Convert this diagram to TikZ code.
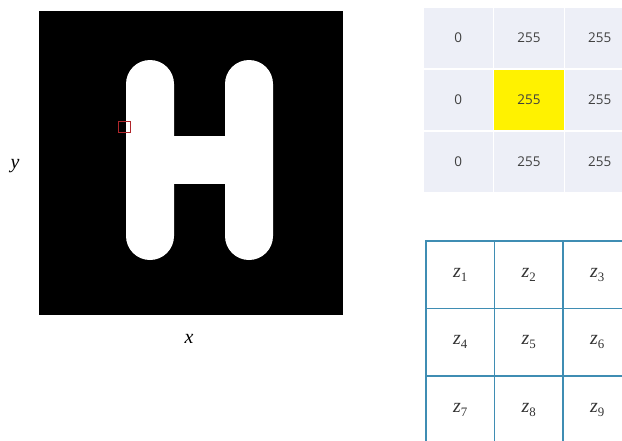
\documentclass[tikz,border=0pt]{standalone}
\usepackage{fontspec}
\setmainfont{Liberation Serif}
\newfontfamily\tabfont{Open Sans}
\usepackage{xcolor}
\usepackage{tikz}
\usetikzlibrary{positioning}

\definecolor{cellbg}{HTML}{EDEFF7}
\definecolor{numgray}{HTML}{404040}
\definecolor{gridblue}{HTML}{3F8DB3}
\definecolor{markred}{HTML}{B0262B}
\definecolor{labgray}{HTML}{333333}

\newcommand{\zlab}[1]{\textit{z}\raisebox{-0.45ex}{\fontsize{11}{11}\selectfont #1}}

\begin{document}
\begin{tikzpicture}[
    x=0.03cm, y=-0.03cm,
    node distance=0pt and 0pt,
    numcell/.style={draw=white, line width=1pt, outer sep=0pt, fill=cellbg, minimum width=2.12cm, minimum height=1.86cm, inner sep=0pt, font=\tabfont\fontsize{11.5}{13}\selectfont, text=numgray},
    hotcell/.style={numcell, fill=yellow},
    zcell/.style={draw=gridblue, line width=1.1pt, outer sep=0pt, minimum width=2.055cm, minimum height=2.025cm, inner sep=0pt, font=\fontsize{17}{19}\selectfont, text=labgray},
    axislab/.style={font=\fontsize{17}{19}\selectfont\itshape}
]
\useasboundingbox (0,0) rectangle (622,440);
\clip (0,0) rectangle (622,440);

% binary image of the letter
\node[fill=black, minimum size=9.12cm, inner sep=0pt, anchor=north west] (img) at (39,11) {};
\fill[white, rounded corners=0.72cm] (126,60) rectangle (174,260);
\fill[white, rounded corners=0.72cm] (225,60) rectangle (273,260);
\fill[white] (172,136) rectangle (227,184);
\draw[markred, line width=0.8pt] (118,121) rectangle (130,132);
\node[axislab] (ylab) at (15,166) {y};
\node[axislab] (xlab) at (189,339) {x};

% pixel values
\node[numcell, anchor=north west] (v11) at (423,7) {0};
\node[numcell, right=of v11] (v12) {255};
\node[numcell, right=of v12] (v13) {255};
\node[numcell, below=of v11] (v21) {0};
\node[hotcell, right=of v21] (v22) {255};
\node[numcell, right=of v22] (v23) {255};
\node[numcell, below=of v21] (v31) {0};
\node[numcell, right=of v31] (v32) {255};
\node[numcell, right=of v32] (v33) {255};

% neighbourhood labels
\node[zcell, anchor=north west] (z1) at (426,241) {\zlab{1}};
\node[zcell, right=of z1] (z2) {\zlab{2}};
\node[zcell, right=of z2] (z3) {\zlab{3}};
\node[zcell, below=of z1] (z4) {\zlab{4}};
\node[zcell, right=of z4] (z5) {\zlab{5}};
\node[zcell, right=of z5] (z6) {\zlab{6}};
\node[zcell, below=of z4] (z7) {\zlab{7}};
\node[zcell, right=of z7] (z8) {\zlab{8}};
\node[zcell, right=of z8] (z9) {\zlab{9}};
\end{tikzpicture}
\end{document}
